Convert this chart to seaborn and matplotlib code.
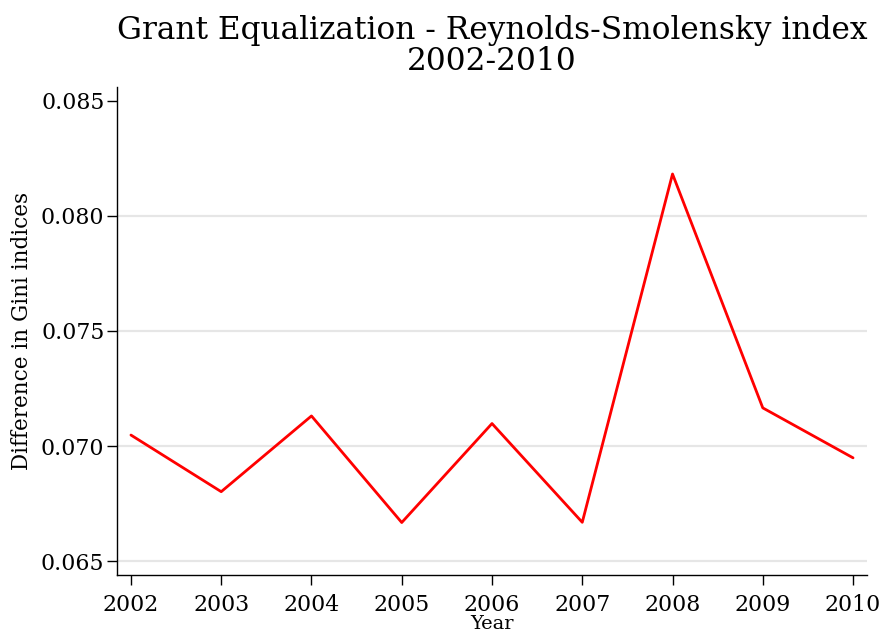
import matplotlib
matplotlib.use("Agg")
import matplotlib.pyplot as plt
import pandas as pd
import seaborn as sns

years = [2002, 2003, 2004, 2005, 2006, 2007, 2008, 2009, 2010]
gini_diff = [0.07048, 0.06802, 0.07131, 0.06668, 0.07098, 0.06669, 0.08182, 0.07166, 0.06949]
y_ticks = [0.065, 0.070, 0.075, 0.080, 0.085]

df = pd.DataFrame({"Year": years, "diff": gini_diff})

sns.set_style("white")
plt.rcParams["font.family"] = ["DejaVu Serif"]
plt.rcParams["text.color"] = "black"
plt.rcParams["axes.labelcolor"] = "black"
plt.rcParams["xtick.color"] = "black"
plt.rcParams["ytick.color"] = "black"

fig = plt.figure(figsize=(8.86, 6.33), dpi=100)
ax = fig.add_axes([0.132, 0.0916, 0.8466, 0.771])

# light horizontal grid, none at the top tick
for t in y_ticks[:-1]:
    ax.axhline(t, color="#e6e6e6", lw=1.6, zorder=0)

sns.lineplot(data=df, x="Year", y="diff", color="red", lw=2, ax=ax)

ax.set_xlim(2001.845, 2010.155)
ax.set_ylim(0.0644, 0.0856)
ax.set_xticks(years)
ax.set_yticks(y_ticks)
ax.set_yticklabels([f"{v:.3f}" for v in y_ticks])
ax.tick_params(axis="both", direction="out", length=7, width=1, labelsize=15.8, left=True, bottom=True)
ax.tick_params(axis="x", pad=7)
ax.tick_params(axis="y", pad=2)

for s in ["top", "right"]:
    ax.spines[s].set_visible(False)
for s in ["left", "bottom"]:
    ax.spines[s].set_color("black")
    ax.spines[s].set_linewidth(1)

ax.set_xlabel("Year", fontsize=14, labelpad=-1)
ax.set_ylabel("Difference in Gini indices", fontsize=15.5, labelpad=6)
ax.set_title("Grant Equalization - Reynolds-Smolensky index\n2002-2010", fontsize=22.5, linespacing=1.0, pad=12)

fig.savefig("out.png", dpi=100)
